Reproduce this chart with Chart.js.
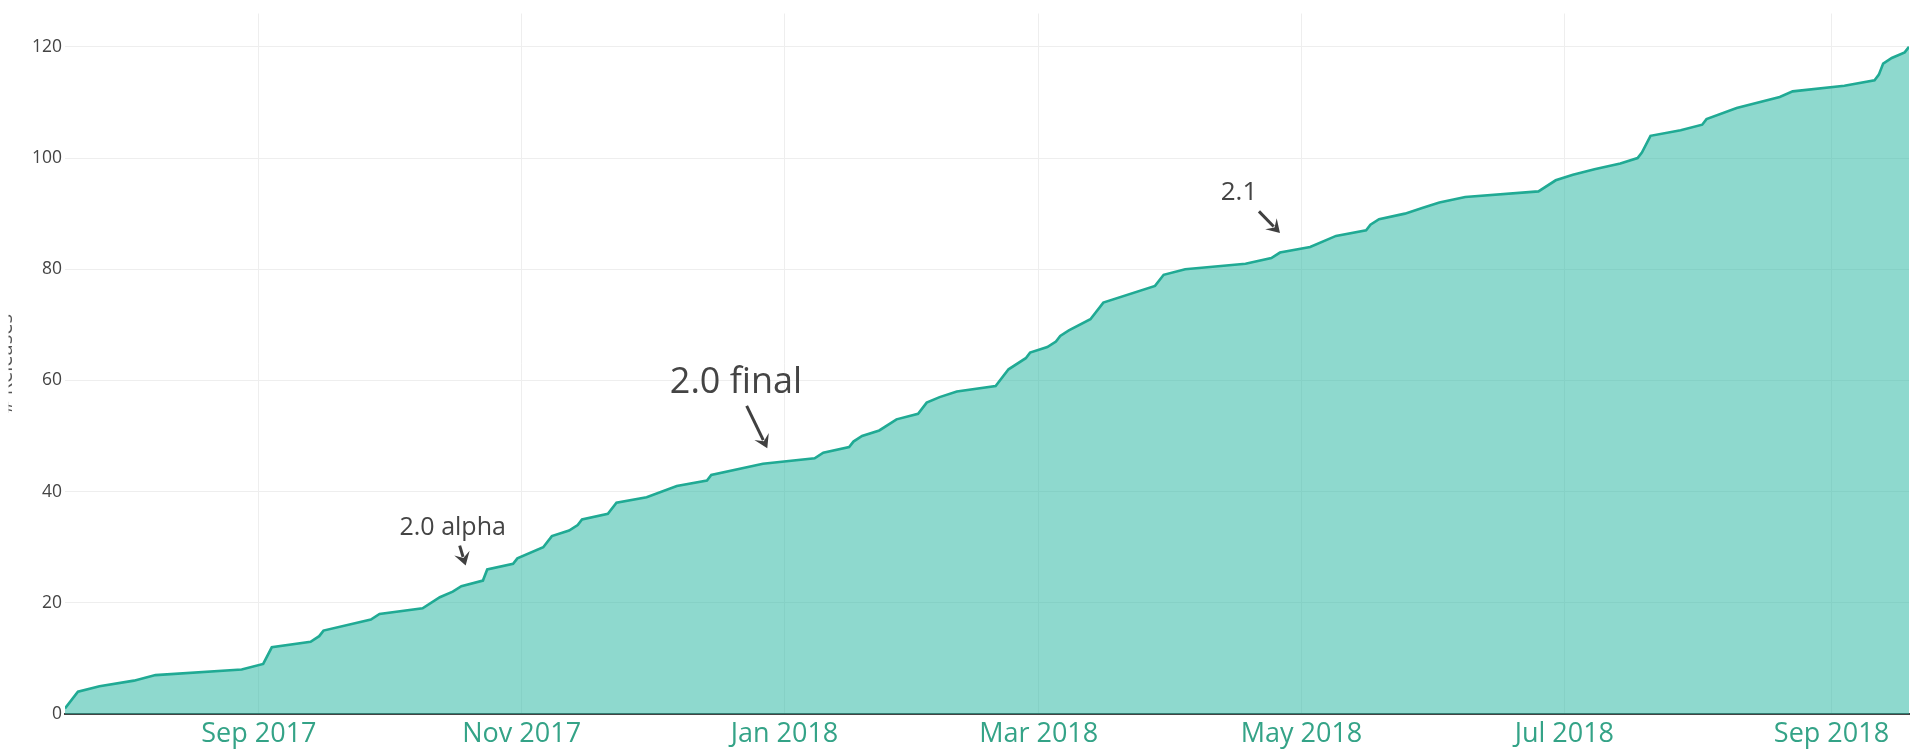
<!DOCTYPE html>
<html><head><meta charset="utf-8">
<script src="https://cdn.jsdelivr.net/npm/chart.js@4.4.1/dist/chart.umd.min.js"></script>
<style>html,body{margin:0;padding:0;background:#fff;overflow:hidden}#wrap{width:1923px;height:750px;position:relative}</style>
</head><body><div id="wrap"><canvas id="c"></canvas></div>
<script>
// ---- data ----
const releaseDates = ['2017-07-18','2017-07-21','2017-07-26','2017-08-03','2017-08-08','2017-08-28','2017-09-02','2017-09-04','2017-09-13','2017-09-15',
  '2017-09-16','2017-09-27','2017-09-29','2017-10-09','2017-10-13','2017-10-16','2017-10-18','2017-10-23','2017-10-24','2017-10-30',
  '2017-10-31','2017-11-06','2017-11-08','2017-11-12','2017-11-14','2017-11-15','2017-11-21','2017-11-23','2017-11-30','2017-12-07',
  '2017-12-14','2017-12-15','2017-12-27','2018-01-08','2018-01-10','2018-01-16','2018-01-17','2018-01-19','2018-01-23','2018-01-27',
  '2018-02-01','2018-02-03','2018-02-06','2018-02-10','2018-02-19','2018-02-22','2018-02-26','2018-02-27','2018-03-03','2018-03-05',
  '2018-03-06','2018-03-08','2018-03-13','2018-03-16','2018-03-28','2018-03-30','2018-04-04','2018-04-18','2018-04-24','2018-04-26',
  '2018-05-03','2018-05-09','2018-05-16','2018-05-17','2018-05-19','2018-05-25','2018-05-29','2018-06-02','2018-06-08','2018-06-25',
  '2018-06-29','2018-07-03','2018-07-08','2018-07-14','2018-07-18','2018-07-19','2018-07-21','2018-07-28','2018-08-02','2018-08-03',
  '2018-08-10','2018-08-20','2018-08-23','2018-09-04','2018-09-11','2018-09-12','2018-09-13','2018-09-15','2018-09-18','2018-09-19'];
const releaseCounts = [1,4,5,6,7,8,9,12,13,14,
  15,17,18,19,21,22,23,24,26,27,
  28,30,32,33,34,35,36,38,39,41,
  42,43,45,46,47,48,49,50,51,53,
  54,56,57,58,59,62,64,65,66,67,
  68,69,71,74,77,79,80,81,82,83,
  84,86,87,88,89,90,91,92,93,94,
  96,97,98,99,100,101,104,105,106,107,
  109,111,112,113,114,115,117,118,119,120];
const monthTickDates = ['2017-09-01','2017-11-01','2018-01-01','2018-03-01','2018-05-01','2018-07-01','2018-09-01'];
const monthTickLabels = ['Sep 2017','Nov 2017','Jan 2018','Mar 2018','May 2018','Jul 2018','Sep 2018'];
const yTickValues = [0,20,40,60,80,100,120];
const yAxisTitle = '# Releases';
const annLabels = ['2.0 alpha','2.0 final','2.1'];
const annDates = ['2017-10-19','2017-12-28','2018-04-26'];
const annValues = [26.7,47.8,86.5];

// ---- helpers / styles ----
const t = d => Date.parse(d + 'T00:00:00Z');
const annStyle = [
  {size:25, tail:[-6,-20], text:[-13,-30.7]},
  {size:36, tail:[-20.6,-42.3], text:[-31.3,-55]},
  {size:26, tail:[-21,-21.7], text:[-41,-32.7]}
];

const annotationPlugin = {
  id:'ann',
  afterDatasetsDraw(chart){
    const {ctx, scales:{x,y}} = chart;
    ctx.save();
    annLabels.forEach((lab,i)=>{
      const st = annStyle[i];
      const px = x.getPixelForValue(t(annDates[i]));
      const py = y.getPixelForValue(annValues[i]);
      const tx = px + st.tail[0], ty = py + st.tail[1];
      const ang = Math.atan2(py-ty, px-tx);
      const L = 13, W = 8;
      const cx = Math.cos(ang), sx = Math.sin(ang);
      const bx = px - cx*L*0.7, by = py - sx*L*0.7;
      ctx.strokeStyle = '#404040'; ctx.fillStyle = '#404040'; ctx.lineWidth = 3; ctx.lineCap='butt';
      ctx.beginPath(); ctx.moveTo(tx,ty); ctx.lineTo(bx,by); ctx.stroke();
      const backX = px - cx*L, backY = py - sx*L;
      ctx.beginPath();
      ctx.moveTo(px,py);
      ctx.lineTo(backX - sx*W, backY + cx*W);
      ctx.lineTo(px - cx*L*0.6, py - sx*L*0.6);
      ctx.lineTo(backX + sx*W, backY - cx*W);
      ctx.closePath(); ctx.fill();
      ctx.fillStyle = '#444';
      ctx.font = st.size + 'px "Open Sans"';
      ctx.textAlign = 'center'; ctx.textBaseline = 'alphabetic';
      ctx.fillText(lab, px + st.text[0], py + st.text[1]);
    });
    ctx.restore();
  }
};

const yTitlePlugin = {
  id:'ytitle',
  afterDraw(chart){
    const {ctx, chartArea} = chart;
    ctx.save();
    ctx.beginPath(); ctx.rect(8.5,0,30,750); ctx.clip();
    ctx.translate(12, (chartArea.top+chartArea.bottom)/2);
    ctx.rotate(-Math.PI/2);
    ctx.font = '20px "Open Sans"';
    ctx.fillStyle = '#555'; ctx.textAlign='center'; ctx.textBaseline='alphabetic';
    ctx.fillText(yAxisTitle, 0, 0);
    ctx.restore();
  }
};

new Chart(document.getElementById('c'), {
  type:'line',
  data:{
    datasets:[{
      data: releaseDates.map((d,i)=>({x:t(d), y:releaseCounts[i]})),
      borderColor:'rgb(32,170,148)',
      backgroundColor:'rgba(30,180,157,0.5)',
      borderWidth:2.6,
      fill:'origin',
      tension:0,
      pointRadius:0,
      pointHoverRadius:0
    }]
  },
  options:{
    responsive:true, maintainAspectRatio:false, animation:false, devicePixelRatio:1,
    layout:{padding:{left:0,right:14,top:10,bottom:0}},
    plugins:{legend:{display:false}, tooltip:{enabled:false}},
    scales:{
      x:{
        type:'linear',
        min:t(releaseDates[0]), max:t(releaseDates[releaseDates.length-1]),
        afterBuildTicks:s=>{ s.ticks = monthTickDates.map(d=>({value:t(d)})); },
        ticks:{
          autoSkip:false, maxRotation:0, padding:4,
          color:'rgb(52,163,135)',
          font:{family:'Open Sans', size:27},
          callback:(v)=>monthTickLabels[monthTickDates.findIndex(d=>t(d)===v)]
        },
        grid:{color:'#eeeeee', lineWidth:1, drawTicks:false},
        border:{display:true, color:'#444', width:2},
        afterFit:s=>{ s.height = 36; }
      },
      y:{
        min:0, max:126,
        afterBuildTicks:s=>{ s.ticks = yTickValues.map(v=>({value:v})); },
        ticks:{color:'#444', font:{family:'Open Sans', size:17.5}, padding:3},
        grid:{color:'#eeeeee', lineWidth:1, drawTicks:false},
        border:{display:false},
        afterFit:s=>{ s.width = 65; }
      }
    }
  },
  plugins:[annotationPlugin, yTitlePlugin]
});
</script>
</body></html>
